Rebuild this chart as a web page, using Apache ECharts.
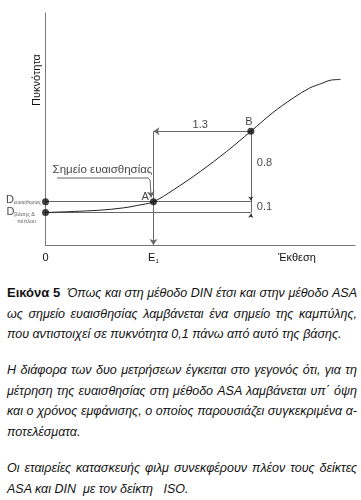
<!DOCTYPE html>
<html>
<head>
<meta charset="utf-8">
<script src="https://cdn.jsdelivr.net/npm/echarts@6/dist/echarts.min.js"></script>
<style>
  html, body { margin: 0; padding: 0; background: #fff; }
  #chart { position: absolute; left: 0; top: 0; width: 361px; height: 272px; }
  #caption {
    position: absolute; left: 7px; top: 283px; width: 350px;
    font-family: 'Liberation Sans', Arial, sans-serif; font-size: 12.5px;
    font-style: italic; line-height: 20.6px; color: #111;
  }
  #caption .j { text-align: justify; text-align-last: justify; white-space: nowrap; }
  #caption .p { margin-top: 15.5px; }
  #caption b { font-style: normal; font-size: 13px; }
</style>
</head>
<body>
<div id="chart"></div>
<div id="caption">
  <div class="j"><b>Εικόνα 5</b>&nbsp; Όπως και στη μέθοδο DIN έτσι και στην μέθοδο ASA</div>
  <div class="j">ως σημείο ευαισθησίας λαμβάνεται ένα σημείο της καμπύλης,</div>
  <div>που αντιστοιχεί σε πυκνότητα 0,1 πάνω από αυτό της βάσης.</div>
  <div class="j p">Η διάφορα των δυο μετρήσεων έγκειται στο γεγονός ότι, για τη</div>
  <div class="j">μέτρηση της ευαισθησίας στη μέθοδο ASA λαμβάνεται υπ΄ όψη</div>
  <div class="j">και ο χρόνος εμφάνισης, ο οποίος παρουσιάζει συγκεκριμένα α-</div>
  <div>ποτελέσματα.</div>
  <div class="j p">Οι εταιρείες κατασκευής φιλμ συνεκφέρουν πλέον τους δείκτες</div>
  <div>ASA και DIN &nbsp;με τον δείκτη &nbsp; ISO.</div>
</div>
<script>
// characteristic curve (log exposure vs density)
const curveX = [0, 0.72, 1.03, 1.21, 1.43, 1.69, 2.05, 2.40, 2.72, 3.01, 3.28, 3.50, 3.66, 3.77, 3.91];
const curveY = [0.42, 0.45, 0.48, 0.51, 0.56, 0.71, 0.95, 1.21, 1.47, 1.71, 1.90, 2.03, 2.09, 2.13, 2.14];

const baseDensity = 0.42;   // D βάσης & πέπλου
const sensDensity = 0.56;   // D ευαισθησίας (base + 0.1)
const pointA = [1.43, 0.56];
const pointB = [2.72, 1.47];

const xTickValues = [0, 1.43, 3.33];
const xTickLabels = ['0', '{e|E}{s|1}', 'Έκθεση'];

const FONT = "'Liberation Sans', Arial, sans-serif";
const LINE = '#666';

const chart = echarts.init(document.getElementById('chart'), null, { renderer: 'canvas' });

const curveData = curveX.map((x, i) => [x, curveY[i]]);

function seg(p1, p2, s1, s2) {
  return [
    { coord: p1, symbol: s1 || 'none' },
    { coord: p2, symbol: s2 || 'none' }
  ];
}

const option = {
  animation: false,
  backgroundColor: '#fff',
  grid: { left: 45.5, right: 6, top: 13, bottom: 27 },
  xAxis: {
    type: 'value', min: 0, max: 4.1,
    splitLine: { show: false },
    axisTick: { show: false },
    axisLine: { lineStyle: { color: '#777', width: 1 } },
    axisLabel: {
      customValues: xTickValues,
      margin: 7,
      color: '#111',
      fontFamily: FONT,
      fontSize: 11,
      formatter: v => xTickLabels[xTickValues.indexOf(v)],
      rich: {
        e: { fontFamily: FONT, fontSize: 11, color: '#111' },
        s: { fontFamily: FONT, fontSize: 6, color: '#111', padding: [6, 0, 0, 0] }
      }
    }
  },
  yAxis: {
    type: 'value', min: 0, max: 3,
    splitLine: { show: false },
    axisTick: { show: false },
    axisLabel: { show: false },
    axisLine: { lineStyle: { color: '#777', width: 1 } }
  },
  graphic: [{
    type: 'text',
    x: 37, y: 80,
    rotation: Math.PI / 2,
    style: {
      text: 'Πυκνότητα',
      font: '11px ' + FONT,
      fill: '#111',
      align: 'center',
      verticalAlign: 'middle'
    }
  }],
  series: [
    {
      name: 'curve',
      type: 'line',
      data: curveData,
      smooth: 0.35,
      showSymbol: false,
      lineStyle: { color: '#222', width: 1 },
      z: 5,
      markLine: {
        silent: true,
        symbolSize: 6,
        label: { show: false },
        lineStyle: { color: LINE, width: 1, type: 'solid' },
        data: [
          seg([0, sensDensity], [pointB[0], sensDensity]),
          seg([0, baseDensity], [pointB[0], baseDensity]),
          seg([pointA[0], pointB[1]], [pointA[0], 0], 'none', 'arrow'),
          seg([pointB[0], pointB[1]], [pointA[0], pointB[1]], 'none', 'arrow'),
          seg([pointB[0], pointB[1]], [pointB[0], baseDensity]),
          seg([1.385, 0.84], [1.40, 0.615], 'none', 'arrow')
        ]
      }
    },
    {
      name: 'dim',
      type: 'line',
      data: [],
      markLine: {
        silent: true,
        symbolSize: 4,
        label: { show: false },
        lineStyle: { color: '#333', width: 1, type: 'solid' },
        data: [
          seg([pointB[0], sensDensity + 0.015], [pointB[0], sensDensity + 0.06], 'arrow', 'none'),
          seg([pointB[0], baseDensity - 0.015], [pointB[0], baseDensity - 0.06], 'arrow', 'none')
        ]
      }
    },
    {
      name: 'leader',
      type: 'line',
      data: [[0.152, 0.866], [1.358, 0.866], [1.385, 0.84]],
      showSymbol: false,
      lineStyle: { color: LINE, width: 1 }
    },
    {
      name: 'points',
      type: 'scatter',
      symbolSize: 7,
      itemStyle: { color: '#111' },
      z: 10,
      data: [
        {
          value: [0, sensDensity],
          label: {
            show: true, position: 'left', distance: 1, offset: [0, -2],
            formatter: '{d|D}{s|ευαισθησίας}',
            rich: {
              d: { fontFamily: FONT, fontSize: 11, color: '#111' },
              s: { fontFamily: FONT, fontSize: 5, color: '#333', padding: [5, 0, 0, 0] }
            }
          }
        },
        {
          value: [0, baseDensity],
          label: {
            show: true, position: 'left', distance: 1, offset: [0, 3],
            formatter: '{d|D}{s|βάσης &}\n{p|πέπλου}',
            rich: {
              d: { fontFamily: FONT, fontSize: 11, color: '#111' },
              s: { fontFamily: FONT, fontSize: 5.5, color: '#333', padding: [5, 6, 0, 0] },
              p: { fontFamily: FONT, fontSize: 5.5, color: '#333', padding: [0, 5, 0, 0], lineHeight: 7 }
            }
          }
        },
        {
          value: pointA,
          label: { show: true, formatter: 'A', position: 'left', offset: [0, -5], distance: 1,
                   fontFamily: FONT, fontSize: 11, color: '#111' }
        },
        {
          value: pointB,
          label: { show: true, formatter: 'B', position: 'top', offset: [-2, 1], distance: 1,
                   fontFamily: FONT, fontSize: 11, color: '#111' }
        }
      ]
    },
    {
      name: 'texts',
      type: 'scatter',
      symbolSize: 0,
      silent: true,
      label: {
        show: true,
        formatter: p => p.value[2],
        fontFamily: FONT, fontSize: 11, color: '#111'
      },
      data: [
        { value: [2.05, 1.55, '1.3'], label: { position: 'inside' } },
        { value: [2.80, 1.06, '0.8'], label: { position: 'right', distance: 0 } },
        { value: [2.80, 0.49, '0.1'], label: { position: 'right', distance: 0 } },
        { value: [0.755, 0.97, 'Σημείο ευαισθησίας'], label: { position: 'inside', fontSize: 11.5 } }
      ]
    }
  ]
};

chart.setOption(option);
</script>
</body>
</html>
